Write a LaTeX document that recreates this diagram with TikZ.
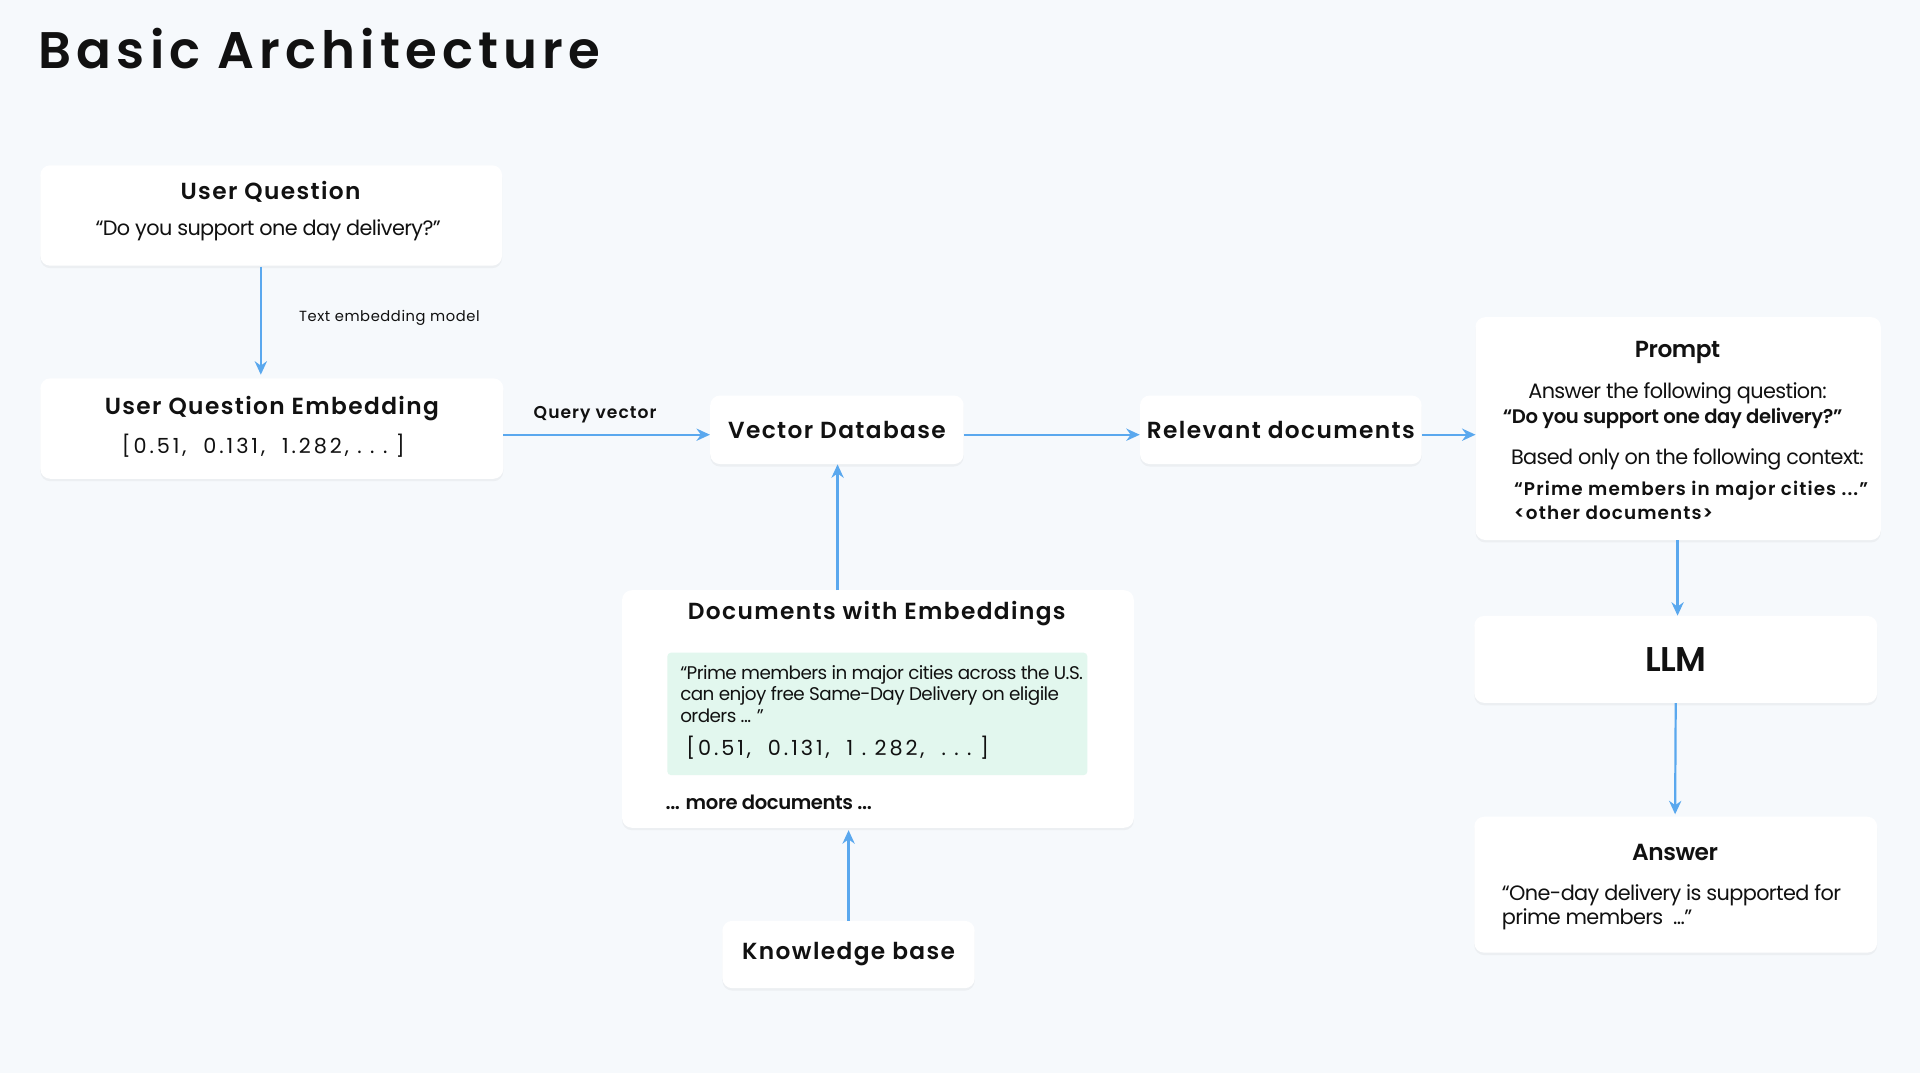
\documentclass[tikz,border=0pt]{standalone}
\usepackage{fontspec}
\setmainfont{Poppins}
\newfontfamily\semib[LetterSpace=6]{Poppins SemiBold}
\newfontfamily\titlef[LetterSpace=10]{Poppins SemiBold}
\newfontfamily\vecf[LetterSpace=14]{Poppins}
\newfontfamily\tightf[LetterSpace=-3]{Poppins}
\newfontfamily\tightb[LetterSpace=-2]{Poppins SemiBold}
\usetikzlibrary{shadows,arrows.meta}
\definecolor{bg}{HTML}{F6F9FC}
\definecolor{arr}{HTML}{5AA8EE}
\definecolor{grn}{HTML}{E2F7EE}
\definecolor{txt}{HTML}{111111}
\tikzset{
 box/.style={draw=none,fill=white,rounded corners=8pt,drop shadow={opacity=0.08,shadow xshift=0pt,shadow yshift=-2pt}},
 conn/.style={draw=arr,line width=1.8pt,-{Stealth[length=11pt,width=10pt]}},
 ttl/.style={font=\fontsize{19}{22}\selectfont\semib,text=txt},
 bodyt/.style={font=\fontsize{17}{20}\selectfont\tightf,text=txt},
 lbl/.style={font=\fontsize{14}{16}\selectfont\semib,text=txt},
}
\begin{document}
\begin{tikzpicture}[x=1pt,y=-1pt]
\fill[bg] (0,0) rectangle (1568,876);
\useasboundingbox (0,0) rectangle (1568,876);
\node[anchor=west,font=\fontsize{42}{50}\selectfont\titlef,text=txt] (title) at (28,40) {Basic Architecture};
% boxes
\path[box] (33,135) rectangle (410,217);
\node[ttl] (uqt) at (221,157) {User Question};
\node[bodyt] (uqq) at (219,188) {“Do you support one day delivery?”};
\path[box] (33,309) rectangle (411,391);
\node[ttl] (uet) at (222,334) {User Question Embedding};
\node[font=\fontsize{17}{20}\selectfont\vecf,text=txt] (uev) at (215,364) {[0.51,\ \ 0.131,\ \ 1.282,\ .\ .\ .\ ]};
\node[box,minimum width=207pt,minimum height=56pt] (vd) at (683.5,351) {};
\node[ttl] at (vd) {Vector Database};
\node[box,minimum width=230pt,minimum height=56pt] (rd) at (1046,351) {};
\node[ttl] at (rd) {Relevant documents};
\path[box] (1205,259) rectangle (1536,441);
\node[ttl,font=\fontsize{19}{22}\selectfont\tightb] (pt) at (1370,288) {Prompt};
\node[bodyt] (p1) at (1370,321) {Answer the following question:};
\node[font=\fontsize{16}{20}\selectfont\tightb,text=txt] (p2) at (1366,342) {“Do you support one day delivery?”};
\node[bodyt] (p3) at (1378,375) {Based only on the following context:};
\node[anchor=west,font=\fontsize{15}{18}\selectfont\semib,text=txt] (p4) at (1233,401) {“Prime members in major cities ...”};
\node[anchor=west,font=\fontsize{15}{18}\selectfont\semib,text=txt] (p5) at (1233,419) {<other documents>};
\node[box,minimum width=329pt,minimum height=71pt] (llm) at (1368.5,538.5) {};
\node[font=\fontsize{28}{32}\selectfont\tightb,text=txt] at (llm) {LLM};
\path[box] (1204,667) rectangle (1533,778);
\node[ttl,font=\fontsize{19}{22}\selectfont\tightb] (at) at (1368,696) {Answer};
\node[anchor=west,bodyt,align=left] (ab) at (1223,741) {“One-day delivery is supported for\\prime members\ \ ...”};
\path[box] (508,482) rectangle (926,676);
\node[ttl] (dt) at (716,501) {Documents with Embeddings};
\fill[grn,rounded corners=3pt] (545,533) rectangle (888,633);
\node[anchor=north west,align=left,font=\fontsize{15}{17.5}\selectfont\tightf,text=txt] (dq) at (552,540) {“Prime members in major cities across the U.S.\\can enjoy free Same-Day Delivery on eligile\\orders ... ”};
\node[anchor=west,font=\fontsize{17}{20}\selectfont\vecf,text=txt] (dv) at (557,611) {[0.51,\ \ 0.131,\ \ 1\ .\ 282,\ \ .\ .\ .\ ]};
\node[anchor=west,font=\fontsize{16}{20}\selectfont\tightb,text=txt] (md) at (540,655) {... more documents ...};
\node[box,minimum width=206pt,minimum height=55pt] (kb) at (693,779.5) {};
\node[ttl] at (kb) {Knowledge base};
% connectors
\coordinate (a1) at (213,218); \coordinate (a2) at (213,306);
\draw[conn] (a1) -- (a2);
\node[font=\fontsize{12}{14}\selectfont\addfontfeatures{LetterSpace=4},text=txt] (tem) at (318,260) {Text embedding model};
\coordinate (b1) at (411,355);
\draw[conn] (b1) -- (vd.west |- b1);
\node[lbl] (qv) at (486,339) {Query vector};
\draw[conn] (vd.east |- b1) -- (rd.west |- b1);
\coordinate (c2) at (1205,355);
\draw[conn] (rd.east |- b1) -- (c2);
\coordinate (d1) at (1370,441);
\draw[conn] (d1) -- (llm.north -| d1);
\coordinate (e2) at (1368,665);
\draw[conn] (llm.south) -- (e2);
\coordinate (f1) at (684,482);
\draw[conn] (f1) -- (vd.south -| f1);
\coordinate (g2) at (693,678);
\draw[conn] (kb.north) -- (g2);
\end{tikzpicture}
\end{document}
